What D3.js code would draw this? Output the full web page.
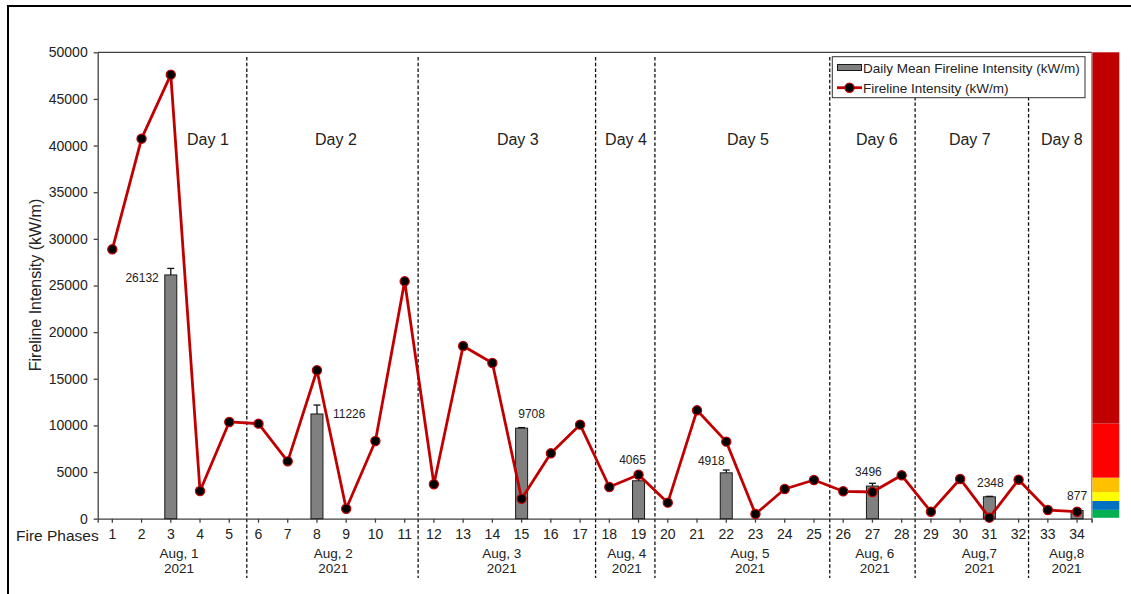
<!DOCTYPE html>
<html>
<head>
<meta charset="utf-8">
<script src="https://cdn.jsdelivr.net/npm/d3@7"></script>
<style>
  html, body { margin: 0; padding: 0; background: #fff; }
  svg { display: block; font-family: "Liberation Sans", Arial, sans-serif; }
</style>
</head>
<body>
<svg id="chart" width="1131" height="594"></svg>
<script>
// Fire phases (x categories)
const phases = d3.range(1, 35);

// Fireline intensity per phase (kW/m)
const intensity = [
  28880, 40740, 47600, 2970, 10370,
  10190, 6150, 15910, 1070, 8330, 25450,
  3690, 18510, 16690, 2140, 7010, 10080,
  3400, 4720,
  1720, 11620, 8260, 500, 3180, 4150,
  2940, 2860, 4650,
  750, 4260, 110, 4180,
  930, 750
];

// Daily mean fireline intensity (kW/m), shown at one phase per day
const meanPhase = [3, 8, 15, 19, 22, 27, 31, 34];
const meanValue = [26132, 11226, 9708, 4065, 4918, 3496, 2348, 877];
const meanError = [700, 960, 60, 250, 300, 300, 50, 40];

// Days and their calendar dates
const dayNames = ["Day 1", "Day 2", "Day 3", "Day 4", "Day 5", "Day 6", "Day 7", "Day 8"];
const dateNames = ["Aug, 1", "Aug, 2", "Aug, 3", "Aug, 4", "Aug, 5", "Aug, 6", "Aug,7", "Aug,8"];
const yearNames = ["2021", "2021", "2021", "2021", "2021", "2021", "2021", "2021"];

// Intensity classes of the colour strip (kW/m)
const classLow = [100, 950, 1900, 2850, 4400, 10200];
const classHigh = [950, 1900, 2850, 4400, 10200, 50000];
const classColor = ["#00B050", "#0070C0", "#FFFF00", "#FFC000", "#FF0000", "#C00000"];

// Y ticks
const yTicks = [0, 5000, 10000, 15000, 20000, 25000, 30000, 35000, 40000, 45000, 50000];

// ---- layout (phase units: boundary between phase p and p+1 is at p) ----
const separatorAt = [5.1, 10.96, 17.03, 19.06, 25.04, 27.96, 31.84];
const dayLabelAt = [3.77, 8.15, 14.37, 18.07, 22.24, 26.65, 29.83, 32.98];
const dateLabelAt = [2.78, 8.06, 13.82, 18.1, 22.31, 26.58, 30.16, 33.14];
// value label placement: [anchor, dx, dy] relative to bar top
const labelPlace = [
  ["end", -12, 7], ["start", 16, 4], ["middle", 10, -10], ["middle", -6, -17],
  ["middle", -15, -8], ["middle", -4, -10], ["middle", 1, -10], ["middle", 0, -11]
];

(function draw() {
  const svg = d3.select("#chart");
  const W = 1131, H = 594;
  const mLeft = 97.7, mRight = 1091.7, mTop = 52.3, mBottom = 518.7;
  const textCol = "#222";
  const axisCol = "#404040";

  svg.append("rect").attr("width", W).attr("height", H).attr("fill", "#fff");
  // outer frame
  svg.append("rect").attr("x", 8).attr("y", 6).attr("width", W + 20).attr("height", H + 20)
    .attr("fill", "none").attr("stroke", "#000").attr("stroke-width", 2);

  const x = d3.scaleBand().domain(phases).range([mLeft, mRight]).paddingInner(0).paddingOuter(0);
  const xc = d3.scaleLinear().domain([0, 34]).range([mLeft, mRight]);
  const y = d3.scaleLinear().domain([0, 50000]).range([mBottom, mTop]);

  // colour strip
  const strip = svg.append("g");
  classLow.forEach((lo, i) => {
    strip.append("rect")
      .attr("x", mRight + 0.6).attr("width", 27)
      .attr("y", y(classHigh[i])).attr("height", y(lo) - y(classHigh[i]))
      .attr("fill", classColor[i]);
  });
  svg.append("line").attr("x1", mRight).attr("x2", mRight).attr("y1", mTop).attr("y2", mBottom + 3.5)
    .attr("stroke", "#808080").attr("stroke-width", 1);

  // top border of the plot
  svg.append("line").attr("x1", mLeft).attr("x2", mRight).attr("y1", mTop).attr("y2", mTop)
    .attr("stroke", axisCol).attr("stroke-width", 1.3);

  // day separators
  svg.append("g").selectAll("line").data(separatorAt).join("line")
    .attr("x1", d => xc(d)).attr("x2", d => xc(d))
    .attr("y1", 57).attr("y2", 578)
    .attr("stroke", "#111").attr("stroke-width", 1.3).attr("stroke-dasharray", "3.5,2.2");

  // day labels
  svg.append("g").selectAll("text").data(dayNames).join("text")
    .attr("x", (d, i) => xc(dayLabelAt[i])).attr("y", 145)
    .attr("text-anchor", "middle").attr("font-size", 16).attr("fill", textCol)
    .text(d => d);

  // y axis
  const yAxis = svg.append("g").attr("transform", `translate(${mLeft},0)`)
    .call(d3.axisLeft(y).tickValues(yTicks).tickFormat(d3.format("d")).tickSize(4).tickSizeOuter(0));
  yAxis.select(".domain").attr("stroke", axisCol).attr("stroke-width", 1.3);
  yAxis.selectAll(".tick line").attr("stroke", axisCol).attr("stroke-width", 1.3);
  yAxis.selectAll(".tick text").attr("font-size", 14).attr("fill", textCol)
    .attr("font-family", "Liberation Sans, Arial, sans-serif").attr("x", -10);

  // x axis
  const xAxis = svg.append("g").attr("transform", `translate(0,${mBottom})`)
    .call(d3.axisBottom(x).tickSize(4).tickSizeOuter(4));
  xAxis.select(".domain").attr("stroke", axisCol).attr("stroke-width", 1.3);
  xAxis.selectAll(".tick line").attr("stroke", axisCol).attr("stroke-width", 1.3);
  xAxis.selectAll(".tick text").attr("font-size", 14).attr("fill", textCol)
    .attr("font-family", "Liberation Sans, Arial, sans-serif").attr("y", 10);

  svg.append("text").attr("x", 16).attr("y", 541).attr("font-size", 15.5).attr("fill", textCol)
    .text("Fire Phases");

  // date labels
  const dates = svg.append("g");
  dateNames.forEach((d, i) => {
    dates.append("text").attr("x", xc(dateLabelAt[i])).attr("y", 558)
      .attr("text-anchor", "middle").attr("font-size", 13.5).attr("fill", textCol).text(d);
    dates.append("text").attr("x", xc(dateLabelAt[i])).attr("y", 573)
      .attr("text-anchor", "middle").attr("font-size", 13.5).attr("fill", textCol).text(yearNames[i]);
  });

  // y axis title
  svg.append("text")
    .attr("transform", `translate(41,285) rotate(-90)`)
    .attr("text-anchor", "middle").attr("font-size", 16).attr("fill", textCol)
    .text("Fireline Intensity (kW/m)");

  // daily mean bars
  const barW = 12;
  const bars = svg.append("g");
  meanPhase.forEach((p, i) => {
    const cx = x(p) + x.bandwidth() / 2;
    bars.append("rect")
      .attr("x", cx - barW / 2).attr("width", barW)
      .attr("y", y(meanValue[i])).attr("height", y(0) - y(meanValue[i]))
      .attr("fill", "#808080").attr("stroke", "#1a1a1a").attr("stroke-width", 1);
    // upper error bar
    const yt = y(meanValue[i] + meanError[i]);
    bars.append("line").attr("x1", cx).attr("x2", cx).attr("y1", y(meanValue[i])).attr("y2", yt)
      .attr("stroke", "#111").attr("stroke-width", 1.3);
    bars.append("line").attr("x1", cx - 3.5).attr("x2", cx + 3.5).attr("y1", yt).attr("y2", yt)
      .attr("stroke", "#111").attr("stroke-width", 1.3);
    // value label
    const [anchor, dx, dy] = labelPlace[i];
    bars.append("text")
      .attr("x", cx + dx).attr("y", y(meanValue[i]) + dy)
      .attr("text-anchor", anchor).attr("font-size", 12).attr("fill", textCol)
      .text(meanValue[i]);
  });

  // fireline intensity line
  const pts = phases.map((p, i) => [x(p) + x.bandwidth() / 2, y(intensity[i])]);
  svg.append("path").attr("d", d3.line()(pts))
    .attr("fill", "none").attr("stroke", "#C00000").attr("stroke-width", 2.8)
    .attr("stroke-linejoin", "round");
  svg.append("g").selectAll("circle").data(pts).join("circle")
    .attr("cx", d => d[0]).attr("cy", d => d[1]).attr("r", 4.6)
    .attr("fill", "#000").attr("stroke", "#C00000").attr("stroke-width", 1.2);

  // legend
  const lg = svg.append("g");
  lg.append("rect").attr("x", 832.3).attr("y", 56.7).attr("width", 252.7).attr("height", 41)
    .attr("fill", "#fff").attr("stroke", "#333").attr("stroke-width", 1);
  lg.append("rect").attr("x", 837.5).attr("y", 64.5).attr("width", 24).attr("height", 6)
    .attr("fill", "#808080").attr("stroke", "#1a1a1a").attr("stroke-width", 1);
  lg.append("text").attr("x", 863).attr("y", 72.5).attr("font-size", 13.5).attr("fill", textCol)
    .text("Daily Mean Fireline Intensity (kW/m)");
  lg.append("line").attr("x1", 837).attr("x2", 862).attr("y1", 87.7).attr("y2", 87.7)
    .attr("stroke", "#C00000").attr("stroke-width", 2.8);
  lg.append("circle").attr("cx", 849.5).attr("cy", 87.7).attr("r", 4.6)
    .attr("fill", "#000").attr("stroke", "#C00000").attr("stroke-width", 1.2);
  lg.append("text").attr("x", 863).attr("y", 92.5).attr("font-size", 13.5).attr("fill", textCol)
    .text("Fireline Intensity (kW/m)");
})();
</script>
</body>
</html>
